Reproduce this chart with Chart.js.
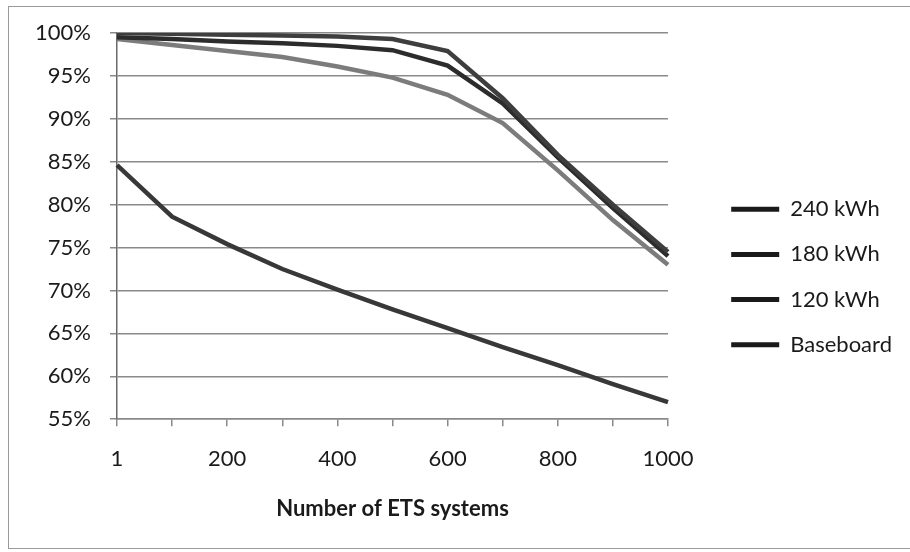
<!DOCTYPE html>
<html>
<head>
<meta charset="utf-8">
<script src="https://cdn.jsdelivr.net/npm/chart.js@4"></script>
<style>
  html, body { margin: 0; padding: 0; background: #fff; overflow: hidden; }
  #wrap { position: relative; width: 910px; height: 552px; }
  #frame { position: absolute; left: 8px; top: 6px; width: 1000px; height: 543px; border: 1.5px solid #9a9a9a; box-sizing: border-box; }
  canvas { position: absolute; left: 0; top: 0; }
</style>
</head>
<body>
<div id="wrap">
  <div id="frame"></div>
  <canvas id="myChart" width="910" height="552"></canvas>
</div>
<script>
let categories = ['1', '100', '200', '300', '400', '500', '600', '700', '800', '900', '1000'];
let seriesNames = ['240 kWh', '180 kWh', '120 kWh', 'Baseboard'];
let kwh240 = [100, 99.9, 99.8, 99.7, 99.6, 99.3, 97.9, 92.4, 85.8, 80.0, 74.5];
let kwh180 = [99.5, 99.3, 99.0, 98.8, 98.5, 98.0, 96.2, 91.8, 85.5, 79.6, 74.0];
let kwh120 = [99.3, 98.6, 97.9, 97.2, 96.1, 94.8, 92.8, 89.5, 84.0, 78.2, 73.0];
let baseboard = [84.6, 78.6, 75.4, 72.5, 70.1, 67.8, 65.6, 63.4, 61.3, 59.1, 57.0];
let lineColors = ['#3e3e3e', '#2c2c2c', '#7c7c7c', '#383838'];

Chart.defaults.font.family = 'Lato';
Chart.defaults.font.size = 22;
Chart.defaults.color = '#1a1a1a';

let ctx = document.getElementById('myChart').getContext('2d');
let allSeries = [kwh240, kwh180, kwh120, baseboard];

// legend sits at x=708, so work out right padding from the widest label
let legendPad = 23.2;
ctx.font = '22px Lato';
let widest = Math.max(...seriesNames.map(n => ctx.measureText(n).width));
let legendWidth = legendPad + 48 + 11 + widest + 10;
let padRight = Math.max(0, 910 - 708 - legendWidth);

let myChart = new Chart(ctx, {
  type: 'line',
  data: {
    labels: categories,
    datasets: allSeries.map((values, i) => ({
      label: seriesNames[i],
      data: values,
      borderColor: lineColors[i],
      backgroundColor: lineColors[i],
      borderWidth: 4.5,
      pointRadius: 0,
      tension: 0,
      fill: false
    }))
  },
  options: {
    responsive: false,
    animation: false,
    layout: { padding: { left: 0, top: 33, right: padRight, bottom: 30 } },
    plugins: {
      tooltip: { enabled: false },
      legend: {
        position: 'right',
        align: 'start',
        fullSize: false,
        title: { display: true, text: ' ', font: { size: 10 }, padding: { top: 130, bottom: 0 } },
        labels: {
          boxWidth: 48,
          boxHeight: 5,
          padding: legendPad,
          generateLabels: (chart) => {
            return Chart.defaults.plugins.legend.labels.generateLabels(chart).map(l => {
              l.fillStyle = '#1a1a1a';
              l.strokeStyle = '#1a1a1a';
              l.lineWidth = 0;
              return l;
            });
          }
        }
      }
    },
    scales: {
      x: {
        offset: false,
        grid: { drawOnChartArea: false, drawTicks: true, tickLength: 7, color: '#8a8a8a', lineWidth: 1.5 },
        border: { color: '#8a8a8a', width: 1.5 },
        ticks: {
          autoSkip: false,
          maxRotation: 0,
          padding: 20,
          callback: (value, index) => index % 2 === 0 ? categories[index] : ''
        },
        title: {
          display: true,
          text: 'Number of ETS systems',
          font: { weight: 'bold', size: 22 },
          padding: { top: 3, bottom: 0 }
        }
      },
      y: {
        min: 55,
        max: 100,
        grid: { color: '#8a8a8a', lineWidth: 1.5, tickLength: 7 },
        border: { color: '#6a6a6a', width: 1.5 },
        ticks: {
          stepSize: 5,
          padding: 19,
          callback: (value) => value + '%'
        },
        afterFit: (scale) => { scale.width = 117; }
      },
      // empty spacer between plot and legend
      yR: {
        position: 'right',
        display: false,
        afterFit: (scale) => { scale.width = 40; }
      }
    }
  }
});
</script>
</body>
</html>
